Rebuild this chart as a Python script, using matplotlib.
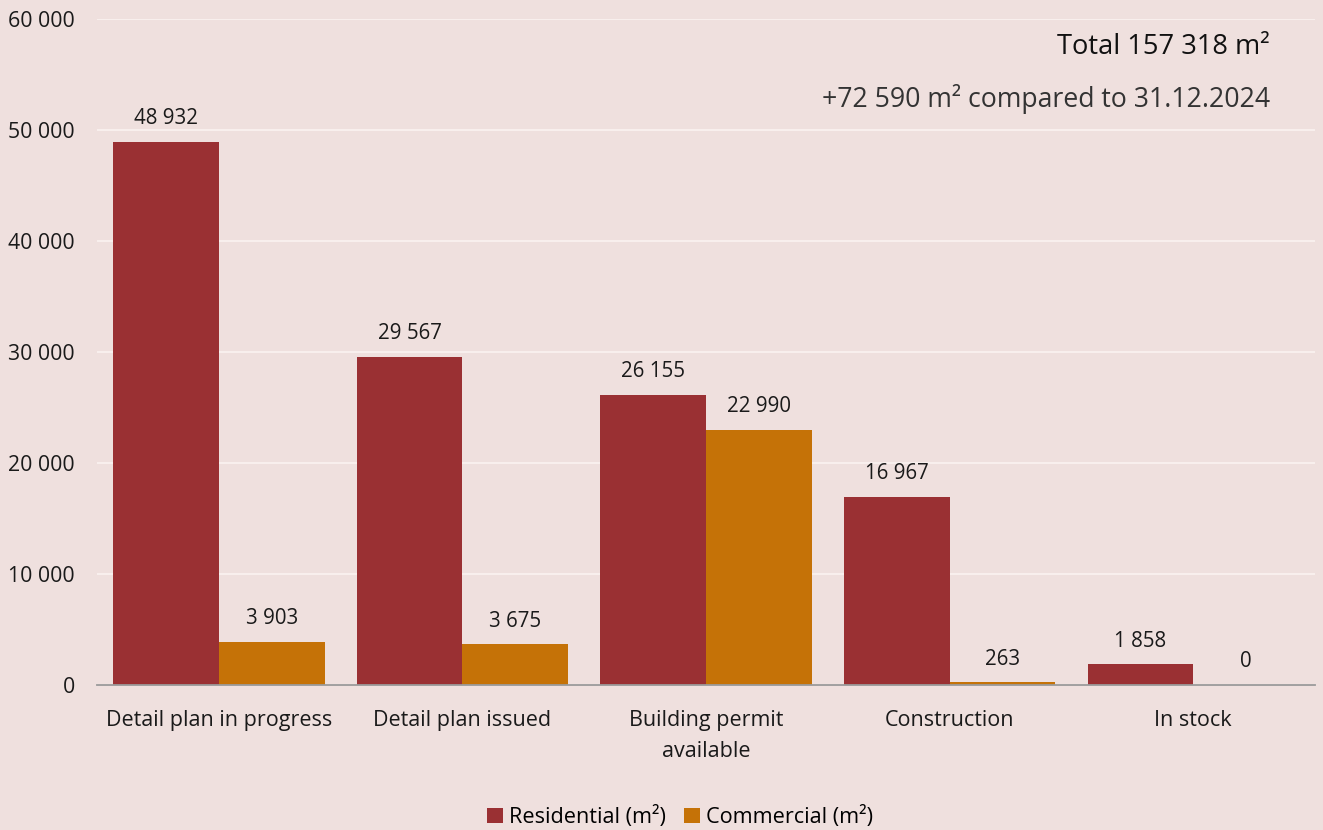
import matplotlib
matplotlib.use("Agg")
import matplotlib.pyplot as plt
import numpy as np
from matplotlib.ticker import FuncFormatter

categories = ["Detail plan in progress", "Detail plan issued", "Building permit\navailable", "Construction", "In stock"]
residential = [48932, 29567, 26155, 16967, 1858]
commercial = [3903, 3675, 22990, 263, 0]
series_names = ["Residential (m²)", "Commercial (m²)"]
title_text = "Total 157 318 m²"
subtitle_text = "+72 590 m² compared to 31.12.2024"

BG = "#EFE0DE"
C_RES = "#9A3033"
C_COM = "#C57207"
plt.rcParams['font.family'] = ['Open Sans', 'DejaVu Sans']

fig = plt.figure(figsize=(13.23, 8.30), dpi=100, facecolor=BG)
ax = fig.add_axes([0.0733, 0.1747, 0.9207, 0.8023], facecolor=BG)

x = np.arange(len(categories))
w = 0.434
b1 = ax.bar(x - w/2, residential, w, color=C_RES, label=series_names[0], zorder=3)
b2 = ax.bar(x + w/2, commercial, w, color=C_COM, label=series_names[1], zorder=3)

def fmt(v):
    return f"{int(v):,}".replace(",", " ")

for bars, vals in ((b1, residential), (b2, commercial)):
    for r, v in zip(bars, vals):
        ax.annotate(fmt(v), (r.get_x() + r.get_width()/2, v), xytext=(0, 9),
                    textcoords="offset points", ha="center", va="bottom",
                    fontsize=14.8, color="#1a1a1a")

ax.set_xlim(-0.5, 4.5)
ax.set_ylim(0, 60000)
ax.set_yticks(np.arange(0, 60001, 10000))
ax.yaxis.set_major_formatter(FuncFormatter(lambda v, p: fmt(v)))
ax.set_xticks(x)
ax.set_xticklabels(categories, fontsize=15.5, color="#1a1a1a", linespacing=1.65)
ax.tick_params(axis="y", length=0, pad=16, labelsize=15.3, labelcolor="#1a1a1a")
ax.tick_params(axis="x", length=0, pad=18)
ax.grid(axis="y", color="#FAF3F1", linewidth=1.2, zorder=0)
for s in ["top", "right", "left"]:
    ax.spines[s].set_visible(False)
ax.spines["bottom"].set_color("#9a9a9a")
ax.spines["bottom"].set_linewidth(1.3)
ax.spines["bottom"].set_zorder(4)

fig.text(1270/1323, 1 - 47/830, title_text, ha="right", va="center", fontsize=19.6, color="#111111")
fig.text(1270/1323, 1 - 99/830, subtitle_text, ha="right", va="center", fontsize=19.2, color="#333333")

fig.legend(handles=[b1, b2], labels=series_names, loc="center", bbox_to_anchor=(680/1323, 1 - 817/830),
           ncol=2, frameon=False, fontsize=15.6, handlelength=0.75, handleheight=0.75,
           handletextpad=0.3, columnspacing=0.8)

fig.savefig("out.png", dpi=100, facecolor=BG)
